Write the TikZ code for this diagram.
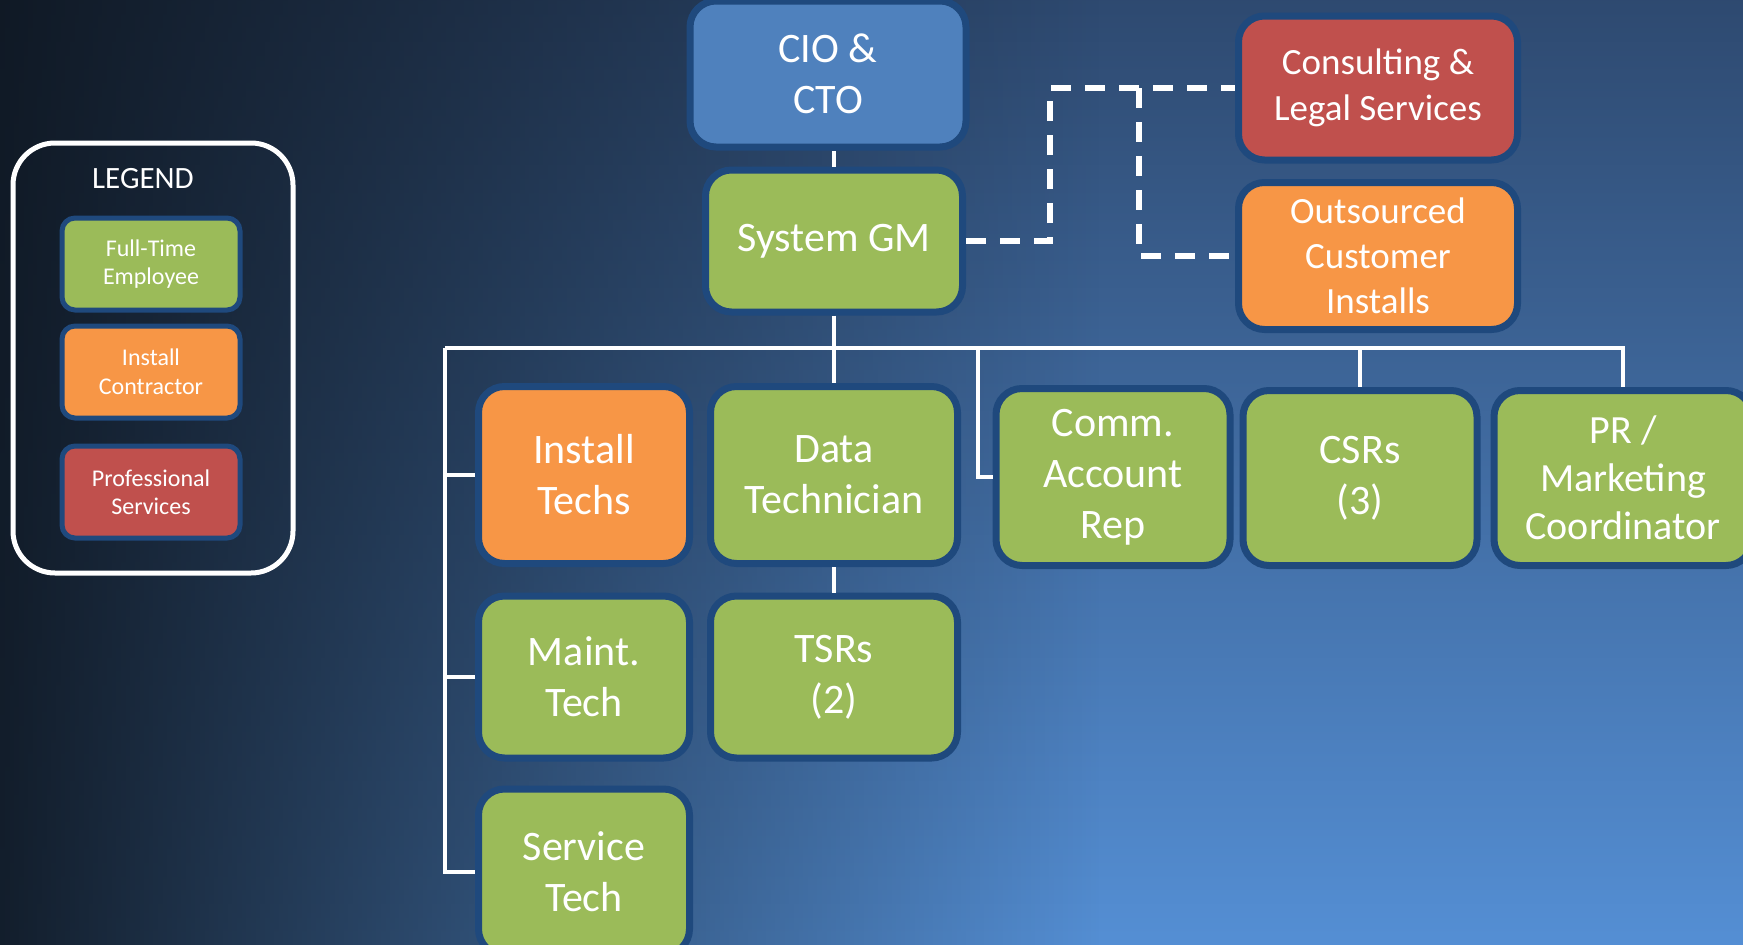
\documentclass[tikz,border=0pt]{standalone}
\usepackage{fontspec}
\setmainfont{Carlito}
\usetikzlibrary{fadings}
\definecolor{bgTop}{HTML}{2D486E}
\definecolor{bgMid}{HTML}{4373B2}
\definecolor{bgBottom}{HTML}{5590D6}
\definecolor{bgShadow}{HTML}{0E1620}
\definecolor{fteGreen}{HTML}{9BBB59}
\definecolor{instOrange}{HTML}{F79646}
\definecolor{proRed}{HTML}{C0504D}
\definecolor{execBlue}{HTML}{4F81BD}
\definecolor{boxEdge}{HTML}{1F497D}
\tikzfading[name=leftshadow, left color=transparent!5, right color=transparent!100]
\tikzset{
  box/.style={draw=boxEdge, line width=7pt, rounded corners=26pt, text=white,
    align=center, inner sep=0pt, font=\fontsize{42}{51}\selectfont},
  fte/.style={box, fill=fteGreen},
  contractor/.style={box, fill=instOrange},
  pro/.style={box, fill=proRed},
  exec/.style={box, fill=execBlue},
  keybox/.style={draw=boxEdge, line width=5pt, rounded corners=13pt, text=white,
    align=center, inner sep=0pt, minimum width=178pt, minimum height=92pt,
    font=\fontsize{24}{28.5}\selectfont},
  orgline/.style={white, line width=4.5pt},
  dashline/.style={white, line width=5.5pt, dash pattern=on 20pt off 14pt}
}
\begin{document}
\begin{tikzpicture}[x=1pt, y=-1pt]
  \useasboundingbox (0,0) rectangle (1743,945);
  \clip (0,0) rectangle (1743,945);
  \shade [top color=bgTop, middle color=bgMid, bottom color=bgBottom] (-20,-20) rectangle (1763,965);
  \fill [bgShadow, path fading=leftshadow] (-20,-20) rectangle (1100,965);

  \draw [white, line width=5pt, rounded corners=42pt] (13,143) rectangle (293,573);
  \node [text=white, font=\fontsize{31}{36}\selectfont] (legendtitle) at (143,179) {LEGEND};
  \node [keybox, fill=fteGreen] (keyfte) at (151,264) {Full-Time\\Employee};
  \node [keybox, fill=instOrange] (keyinst) at (151,372) {Install\\Contractor};
  \node [keybox, fill=proRed] (keypro) at (151,492) {Professional\\Services};

  \node [exec, minimum width=276pt, minimum height=146pt] (cio) at (828,74) {CIO \&\\CTO};
  \node [fte, minimum width=257pt, minimum height=142pt] (gm) at (834,241) {System GM};
  \node [pro, minimum width=279pt, minimum height=144pt, font=\fontsize{37}{46}\selectfont] (consult) at (1378,88) {Consulting \&\\Legal Services};
  \node [contractor, minimum width=279pt, minimum height=147pt, font=\fontsize{37}{45}\selectfont] (outsrc) at (1378,256) {Outsourced\\Customer\\Installs};

  \node [contractor, minimum width=211pt, minimum height=177pt] (insttech) at (584,475) {Install\\Techs};
  \node [fte, minimum width=247pt, minimum height=177pt] (datatech) at (834,475) {Data\\Technician};
  \node [fte, minimum width=234pt, minimum height=177pt] (commrep) at (1113,477) {Comm.\\Account\\Rep};
  \node [fte, minimum width=234pt, minimum height=175pt] (csrs) at (1360,478) {CSRs\\(3)};
  \node [fte, minimum width=258pt, minimum height=175pt, font=\fontsize{40}{48}\selectfont] (prmkt) at (1623,478) {PR /\\Marketing\\Coordinator};
  \node [fte, minimum width=211pt, minimum height=162pt] (mainttech) at (584,677) {Maint.\\Tech};
  \node [fte, minimum width=247pt, minimum height=162pt] (tsrs) at (834,677) {TSRs\\(2)};
  \node [fte, minimum width=211pt, minimum height=166pt] (servtech) at (584,872) {Service\\Tech};

  \coordinate (barleft) at (445,348);
  \coordinate (commdrop) at (978,348);
  \coordinate (dashA) at (1050,88);
  \coordinate (dashB) at (1139,88);

  \draw [orgline] (gm.north) -- (gm.north |- cio.south);
  \draw [orgline] (gm.south) -- (datatech.north);
  \draw [orgline] (datatech.south) -- (tsrs.north);
  \draw [orgline] (barleft) -- (prmkt.north |- barleft) -- (prmkt.north);
  \draw [orgline] (csrs.north |- barleft) -- (csrs.north);
  \draw [orgline] (commdrop) |- (commrep.west);
  \draw [orgline] (barleft) |- (servtech.west);
  \draw [orgline] (insttech.west -| barleft) -- (insttech.west);
  \draw [orgline] (mainttech.west -| barleft) -- (mainttech.west);

  \draw [dashline] (gm.east) -| (dashA) -- (consult.west);
  \draw [dashline] (dashB) |- (outsrc.west);
\end{tikzpicture}
\end{document}
